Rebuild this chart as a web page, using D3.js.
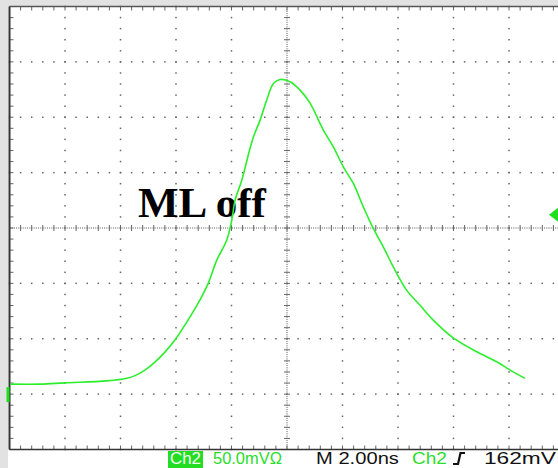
<!DOCTYPE html>
<html><head><meta charset="utf-8">
<script src="https://cdn.jsdelivr.net/npm/d3@7"></script>
<style>html,body{margin:0;padding:0;background:#e2e2e2;overflow:hidden}</style>
</head><body>
<svg id="c" width="558" height="468"></svg>
<script>
// Data (time in ns, voltage in mV)
const timeNs = [-9.98,-8.9,-8.0,-6.49,-5.77,-5.48,-5.12,-4.76,-4.40,-4.04,-3.5,-3.14,-2.84,-2.53,-2.17,-1.99,-1.87,-1.63,-1.24,-0.97,-0.73,-0.49,-0.25,0.11,0.47,0.83,1.31,1.67,2.03,2.39,2.75,3.11,3.47,3.83,4.31,4.79,5.27,5.99,6.84,7.56,8.04,8.58];
const voltageMv = [9.0,9.0,10.2,12.0,14.4,16.7,21.7,28.9,37.9,48.8,69.5,84.9,100.0,121.0,139.1,157.1,175.2,193.2,230.0,247.4,265.5,280.5,284.1,282.0,274.5,262.8,238.4,223.3,205.2,190.2,169.1,149.6,133.0,114.9,93.9,80.4,66.8,50.8,38.2,29.2,21.7,14.2];
const timeDomain = [-10, 10];     // 2.00 ns/div, 10 divisions
const voltDomain = [-50, 350];    // 50 mV/div, 8 divisions, ground at -1 div
const triggerMv = 162;
const groundMv = 0;
const annotation = "ML off";
const statusItems = ["Ch2", "50.0mVΩ", "M 2.00ns", "Ch2", "162mV"];

const svg = d3.select("#c");
const L = 9.5, T = 6.5, DIV = 55.5;
const x = d3.scaleLinear().domain(timeDomain).range([L, L + 10 * DIV]);
const y = d3.scaleLinear().domain(voltDomain).range([T + 8 * 55.375, T]);
const R = x(timeDomain[1]), B = y(voltDomain[0]);

svg.append("rect").attr("x", 8).attr("y", T).attr("width", 560).attr("height", 470).attr("fill", "#ffffff");

const g = svg.append("g");
const dotC = "#666";
const xMaj = d3.range(11).map(i => x(timeDomain[0] + i * 2));
const yMaj = d3.range(9).map(i => y(voltDomain[0] + i * 50));
const xMin = d3.range(51).map(i => x(timeDomain[0] + i * 0.4));
const yMin = d3.range(41).map(i => y(voltDomain[0] + i * 10));
const cx = x(0), cy = y(150);

xMaj.slice(1, -1).forEach(xx => {
  if (Math.abs(xx - cx) < 1) return;
  yMin.forEach(yy => g.append("rect").attr("x", xx - 0.75).attr("y", yy - 0.75).attr("width", 1.5).attr("height", 1.5).attr("fill", dotC));
});
yMaj.slice(1, -1).forEach(yy => {
  if (Math.abs(yy - cy) < 1) return;
  xMin.forEach(xx => g.append("rect").attr("x", xx - 0.75).attr("y", yy - 0.75).attr("width", 1.5).attr("height", 1.5).attr("fill", dotC));
});
g.append("line").attr("x1", L).attr("x2", R).attr("y1", cy).attr("y2", cy)
  .attr("stroke", "#555").attr("stroke-width", 1).attr("stroke-dasharray", "1,1.2");
g.append("line").attr("x1", cx).attr("x2", cx).attr("y1", T).attr("y2", B)
  .attr("stroke", "#555").attr("stroke-width", 1).attr("stroke-dasharray", "1,1.2");
xMin.forEach(xx => g.append("line").attr("x1", xx).attr("x2", xx).attr("y1", cy - 3).attr("y2", cy + 3).attr("stroke", "#666").attr("stroke-width", 1));
yMin.forEach(yy => g.append("line").attr("x1", cx - 3).attr("x2", cx + 3).attr("y1", yy).attr("y2", yy).attr("stroke", "#666").attr("stroke-width", 1));
xMin.forEach(xx => {
  g.append("line").attr("x1", xx).attr("x2", xx).attr("y1", T).attr("y2", T + 4).attr("stroke", "#666");
  g.append("line").attr("x1", xx).attr("x2", xx).attr("y1", B - 4).attr("y2", B).attr("stroke", "#666");
});
yMin.forEach(yy => g.append("line").attr("x1", L).attr("x2", L + 4).attr("y1", yy).attr("y2", yy).attr("stroke", "#666"));
g.append("line").attr("x1", L).attr("x2", L).attr("y1", T).attr("y2", B).attr("stroke", "#333").attr("stroke-width", 2);
g.append("line").attr("x1", L).attr("x2", R).attr("y1", T).attr("y2", T).attr("stroke", "#555").attr("stroke-width", 1.5);
g.append("line").attr("x1", L).attr("x2", R).attr("y1", B).attr("y2", B).attr("stroke", "#333").attr("stroke-width", 1.5);

svg.append("text").attr("x", 138).attr("y", 217).attr("font-family", "Liberation Serif, Times New Roman, serif")
  .attr("font-weight", "bold").attr("font-size", 43).attr("fill", "#000").text(annotation);

const pts = timeNs.map((t, i) => [t, voltageMv[i]]);
svg.append("path").datum(pts)
  .attr("d", d3.line().x(d => x(d[0])).y(d => y(d[1])).curve(d3.curveCatmullRom.alpha(0.5)))
  .attr("fill", "none").attr("stroke", "#2cee2c").attr("stroke-width", 1.6);

const green = "#1ee01e";
svg.append("rect").attr("x", 6.5).attr("y", y(groundMv) - 7).attr("width", 3).attr("height", 15).attr("fill", green);
const ty = y(triggerMv);
svg.append("path").attr("d", `M549,${ty} L558,${ty - 7} L558,${ty + 7} Z`).attr("fill", green);

const fs = 17, base = 464;
const st = svg.append("g").attr("font-family", "Liberation Sans, Arial, sans-serif").attr("font-size", fs);
st.append("rect").attr("x", 168).attr("y", 451).attr("width", 35).attr("height", 17).attr("fill", "#22dd22");
const items = [
  {t: statusItems[0], x: 170, w: 31, c: "#f4fff4"},
  {t: statusItems[1], x: 213, w: 69, c: "#2add2a"},
  {t: statusItems[2], x: 316, w: 83, c: "#111"},
  {t: statusItems[3], x: 412, w: 35, c: "#2add2a"},
  {t: statusItems[4], x: 484, w: 72, c: "#111"}
];
items.forEach(d => {
  const t = st.append("text").attr("x", 0).attr("y", 0).attr("fill", d.c).text(d.t);
  const nat = t.node().getComputedTextLength();
  t.attr("transform", `translate(${d.x},${base}) scale(${d.w / nat},1)`);
});
svg.append("path").attr("d", "M453,464 L458,464 L460.5,453 L465,453").attr("fill", "none").attr("stroke", "#111").attr("stroke-width", 2.2);
</script>
</body></html>
